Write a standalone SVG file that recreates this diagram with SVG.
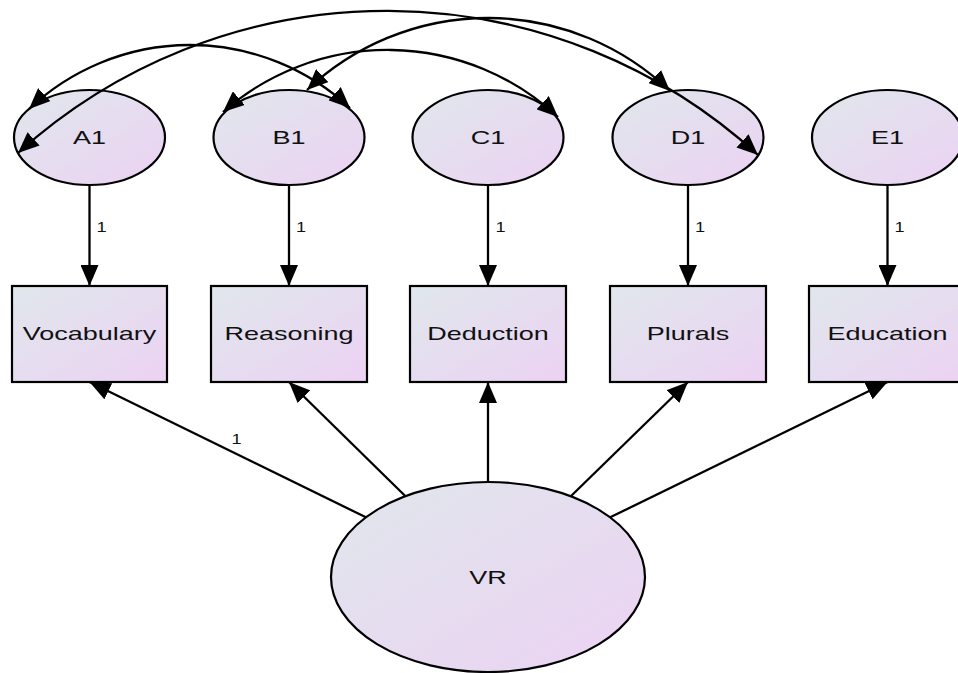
<svg xmlns="http://www.w3.org/2000/svg" width="958" height="673" viewBox="0 0 958 673">
<style>
.node{fill:url(#g);stroke:#000;stroke-width:2.2}
.lbl{font-family:"Liberation Sans",Arial,sans-serif;font-size:18px;fill:#111;text-anchor:middle}
.sm{font-family:"Liberation Sans",Arial,sans-serif;font-size:14px;fill:#111;text-anchor:middle}
.c{fill:none;stroke:#000;stroke-width:2.3}
</style>
<defs>
<linearGradient id="g" x1="0" y1="0" x2="1" y2="1">
<stop offset="0" stop-color="#e0e7ec"/>
<stop offset="1" stop-color="#ecd2f3"/>
</linearGradient>
<marker id="a" viewBox="0 0 21 18" refX="21" refY="9" markerWidth="21" markerHeight="18" markerUnits="userSpaceOnUse" orient="auto-start-reverse">
<path d="M0,0 L21,9 L0,18 z" fill="#000"/>
</marker>
</defs>
<rect width="958" height="673" fill="#fff"/>
<g id="A1"><ellipse class="node" cx="89.5" cy="137.5" rx="75.5" ry="47.5"/><text class="lbl" transform="translate(89.5 144) scale(1.5 1)">A1</text></g>
<g id="B1"><ellipse class="node" cx="289" cy="137.5" rx="75.5" ry="47.5"/><text class="lbl" transform="translate(289 144) scale(1.5 1)">B1</text></g>
<g id="C1"><ellipse class="node" cx="488" cy="137.5" rx="75.5" ry="47.5"/><text class="lbl" transform="translate(488 144) scale(1.5 1)">C1</text></g>
<g id="D1"><ellipse class="node" cx="688" cy="137.5" rx="75.5" ry="47.5"/><text class="lbl" transform="translate(688 144) scale(1.5 1)">D1</text></g>
<g id="E1"><ellipse class="node" cx="887.5" cy="137.5" rx="75.5" ry="47.5"/><text class="lbl" transform="translate(887.5 144) scale(1.5 1)">E1</text></g>
<g id="Vocabulary"><rect class="node" x="12" y="286" width="155" height="96"/><text class="lbl" transform="translate(89.5 340) scale(1.5 1)">Vocabulary</text></g>
<g id="Reasoning"><rect class="node" x="211" y="286" width="156" height="96"/><text class="lbl" transform="translate(289 340) scale(1.5 1)">Reasoning</text></g>
<g id="Deduction"><rect class="node" x="410" y="286" width="156" height="96"/><text class="lbl" transform="translate(488 340) scale(1.5 1)">Deduction</text></g>
<g id="Plurals"><rect class="node" x="610" y="286" width="156" height="96"/><text class="lbl" transform="translate(688 340) scale(1.5 1)">Plurals</text></g>
<g id="Education"><rect class="node" x="809" y="286" width="157" height="96"/><text class="lbl" transform="translate(887.5 340) scale(1.5 1)">Education</text></g>
<g id="VR"><ellipse class="node" cx="488" cy="577" rx="157" ry="95"/><text class="lbl" transform="translate(488 584) scale(1.5 1)">VR</text></g>
<g id="connectors">
<path class="c" d="M89.5,185 L89.5,286" marker-end="url(#a)"/>
<path class="c" d="M289,185 L289,286" marker-end="url(#a)"/>
<path class="c" d="M488,185 L488,286" marker-end="url(#a)"/>
<path class="c" d="M688,185 L688,286" marker-end="url(#a)"/>
<path class="c" d="M887.5,185 L887.5,286" marker-end="url(#a)"/>
<path class="c" d="M365.9,517.3 L89.5,382" marker-end="url(#a)"/>
<path class="c" d="M405.5,496.2 L289,382" marker-end="url(#a)"/>
<path class="c" d="M488,482 L488,382" marker-end="url(#a)"/>
<path class="c" d="M570.8,496.3 L688,382" marker-end="url(#a)"/>
<path class="c" d="M610.2,517.3 L887.5,382" marker-end="url(#a)"/>
<path class="c" d="M29,109 A234.6,234.6 0 0 1 350,108" marker-start="url(#a)" marker-end="url(#a)"/>
<path class="c" d="M18,153 A550,550 0 0 1 758,155" marker-start="url(#a)" marker-end="url(#a)"/>
<path class="c" d="M223,112 A249.7,249.7 0 0 1 558,117" marker-start="url(#a)" marker-end="url(#a)"/>
<path class="c" d="M307,90 A263.4,263.4 0 0 1 670,91" marker-start="url(#a)" marker-end="url(#a)"/>
<text class="sm" transform="translate(101.5 232) scale(1.3 1)">1</text>
<text class="sm" transform="translate(301 232) scale(1.3 1)">1</text>
<text class="sm" transform="translate(500.5 232) scale(1.3 1)">1</text>
<text class="sm" transform="translate(700 232) scale(1.3 1)">1</text>
<text class="sm" transform="translate(899.5 232) scale(1.3 1)">1</text>
<text class="sm" transform="translate(236.5 444) scale(1.3 1)">1</text>
</g>
</svg>
